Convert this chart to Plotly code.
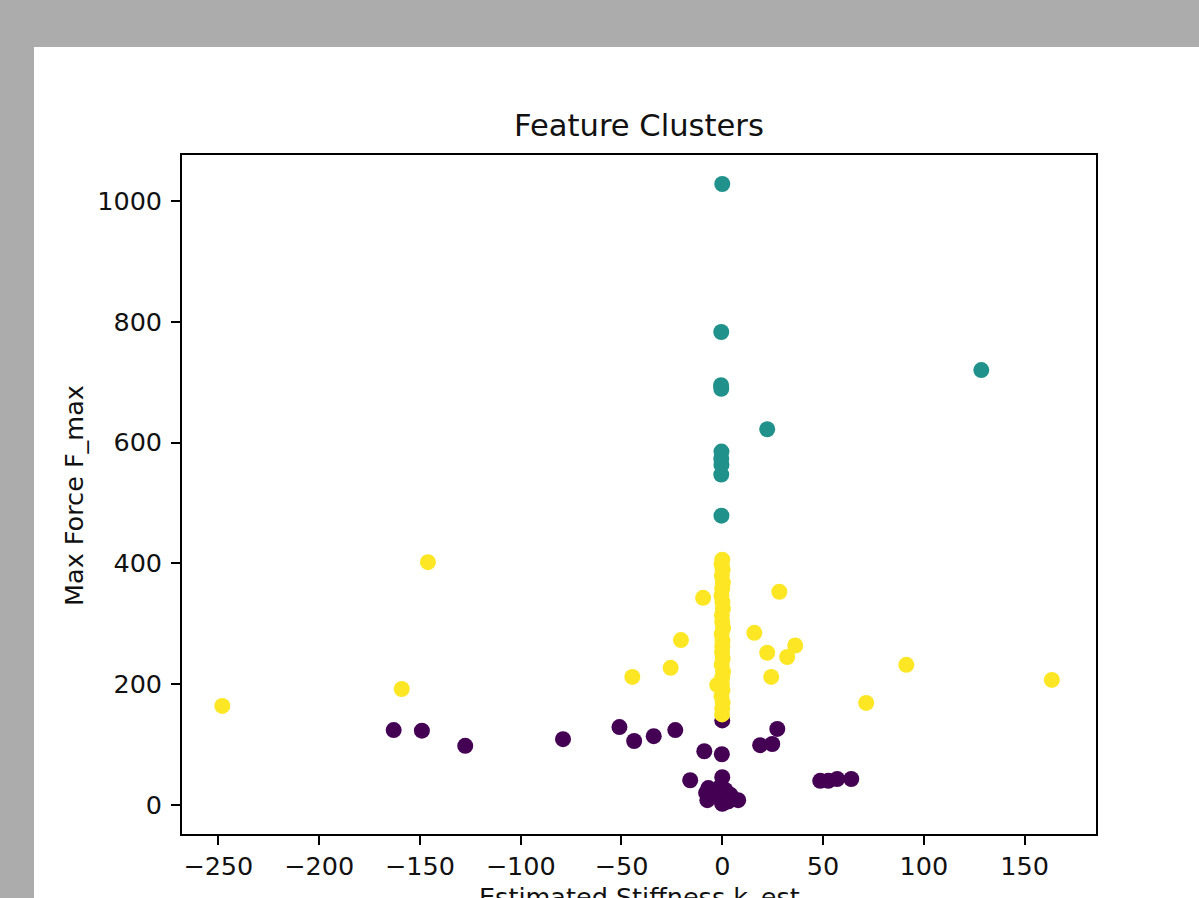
import plotly.graph_objects as go

# Cluster 0 (purple)
k_est_c0 = [-163, -149, -127.5, -79, -51, -43.7, -34, -23.3, -15.9, -8.9, -0.2, 0,
            18.8, 24.8, 27.3, 48.6, 52.6, 57, 64, 0, -6.9, -7.4, 0, 7.9, 4, -1, 0,
            -3, 1.5, -8, 3]
f_max_c0 = [124, 123, 98, 109, 129, 106, 114, 124, 41, 89, 84, 140,
            99, 101, 126, 40, 40, 43, 43, 46, 28, 8, 3, 8, 17, 30, 2,
            17, 25, 20, 6]

# Cluster 1 (teal)
k_est_c1 = [0, -0.5, -0.6, -0.5, 128.5, 22.3, -0.4, -0.5, -0.4, -0.5, -0.4]
f_max_c1 = [1028, 783, 695, 689, 720, 622, 585, 573, 563, 547, 479]

# Cluster 2 (yellow)
k_est_c2 = [-248, -159, -146, -44.6, -25.6, -20.5, -9.5, 15.9, 28.3, 22.3, 24.3,
            32.2, 36.2, 71.4, 91.3, 163.5, -2.5,
            0, -0.3, 0.2, -0.2, 0.3, 0, -0.4, 0.1, 0.3, -0.2, 0, 0.4, -0.3, 0.1,
            0, -0.1, 0.2, -0.3, 0.4, 0, -0.2, 0.1, -0.4, 0.2, 0, -0.1]
f_max_c2 = [164, 192, 402, 212, 227, 273, 343, 285, 353, 252, 212,
            245, 264, 169, 232, 207, 199,
            406, 398, 390, 380, 368, 358, 347, 336, 325, 314, 303, 293, 283, 272,
            262, 252, 242, 232, 221, 211, 200, 190, 180, 170, 160, 150]

colors = ["#440154", "#21918c", "#fde725"]

fig = go.Figure()
for kx, fy, col in [(k_est_c0, f_max_c0, colors[0]),
                    (k_est_c1, f_max_c1, colors[1]),
                    (k_est_c2, f_max_c2, colors[2])]:
    fig.add_trace(go.Scatter(x=kx, y=fy, mode="markers",
                             marker=dict(color=col, size=16, line=dict(width=0)),
                             showlegend=False))

W, H = 1199, 898
L, R, T, B = 182, 1096, 155, 834
pw, ph = R - L, B - T

def px_x(x):
    return (x - L) / pw

def px_y(y):
    return (B - y) / ph

font = "DejaVu Sans, sans-serif"
axis_common = dict(showline=True, linecolor="black", linewidth=1.6, mirror=True,
                   ticks="outside", ticklen=9, tickwidth=1.6, tickcolor="black",
                   showgrid=False, zeroline=False,
                   tickfont=dict(family=font, size=25.5, color="#111111"))

fig.update_layout(
    width=W, height=H,
    margin=dict(l=L, r=W - R, t=T, b=H - B, pad=0),
    paper_bgcolor="#acacac",
    plot_bgcolor="white",
    xaxis=dict(range=[-268, 185.4], tickvals=[-250, -200, -150, -100, -50, 0, 50, 100, 150],
               ticktext=["\u2212250", "\u2212200", "\u2212150", "\u2212100", "\u221250", "0", "50", "100", "150"],
               **axis_common),
    yaxis=dict(range=[-48, 1076], tickvals=[0, 200, 400, 600, 800, 1000],
               ticklabelstandoff=4, **axis_common),
    shapes=[dict(type="rect", xref="paper", yref="paper", layer="below",
                 x0=px_x(34), x1=px_x(W + 5), y0=px_y(H + 5), y1=px_y(47),
                 fillcolor="white", line=dict(width=0))],
    annotations=[
        dict(text="Feature Clusters", xref="paper", yref="paper",
             x=px_x(639), y=px_y(126), xanchor="center", yanchor="middle",
             showarrow=False, font=dict(family=font, size=30.6, color="#111111")),
        dict(text="Max Force F_max", xref="paper", yref="paper",
             x=px_x(74), y=px_y(496), xanchor="center", yanchor="middle",
             textangle=-90, showarrow=False,
             font=dict(family=font, size=25.5, color="#111111")),
        dict(text="Estimated Stiffness k_est", xref="paper", yref="paper",
             x=px_x(639), y=px_y(880), xanchor="center", yanchor="top",
             showarrow=False, font=dict(family=font, size=25.5, color="#111111")),
    ],
)

fig.write_html(
    "out.html",
    config={"displayModeBar": False},
    post_script=("document.body.style.margin='0';"
                 "document.body.style.overflow='hidden';"
                 "document.body.style.background='#acacac';"),
)
